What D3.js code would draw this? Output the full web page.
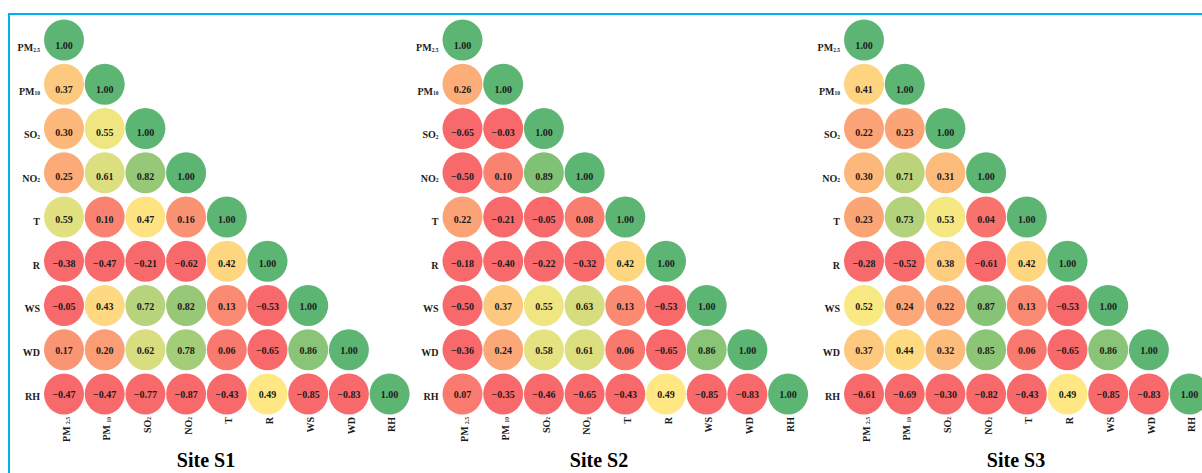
<!DOCTYPE html>
<html>
<head>
<meta charset="utf-8">
<script src="https://cdn.jsdelivr.net/npm/d3@7"></script>
<style>
  html, body { margin: 0; padding: 0; background: #ffffff; }
  svg { display: block; }
  text { font-family: "Liberation Serif", "Times New Roman", serif; font-weight: bold; }
</style>
</head>
<body>
<svg id="chart" width="1202" height="473"></svg>
<script>
// Variables in matrix order (rows top to bottom, columns left to right)
const variables = ["PM2.5", "PM10", "SO2", "NO2", "T", "R", "WS", "WD", "RH"];

// Label pieces: main text and subscript, for row labels and column labels
const rowLabelParts = {
  "PM2.5": ["PM", "2.5"], "PM10": ["PM", "10"], "SO2": ["SO", "2"], "NO2": ["NO", "2"],
  "T": ["T", ""], "R": ["R", ""], "WS": ["WS", ""], "WD": ["WD", ""], "RH": ["RH", ""]
};
const colLabelParts = {
  "PM2.5": ["PM ", "2.5"], "PM10": ["PM ", "10"], "SO2": ["SO", "2"], "NO2": ["NO", "2"],
  "T": ["T", ""], "R": ["R", ""], "WS": ["WS", ""], "WD": ["WD", ""], "RH": ["RH", ""]
};

// Lower-triangle correlation coefficients, one row per variable
const siteS1 = [
  [1.00],
  [0.37, 1.00],
  [0.30, 0.55, 1.00],
  [0.25, 0.61, 0.82, 1.00],
  [0.59, 0.10, 0.47, 0.16, 1.00],
  [-0.38, -0.47, -0.21, -0.62, 0.42, 1.00],
  [-0.05, 0.43, 0.72, 0.82, 0.13, -0.53, 1.00],
  [0.17, 0.20, 0.62, 0.78, 0.06, -0.65, 0.86, 1.00],
  [-0.47, -0.47, -0.77, -0.87, -0.43, 0.49, -0.85, -0.83, 1.00]
];
const siteS2 = [
  [1.00],
  [0.26, 1.00],
  [-0.65, -0.03, 1.00],
  [-0.50, 0.10, 0.89, 1.00],
  [0.22, -0.21, -0.05, 0.08, 1.00],
  [-0.18, -0.40, -0.22, -0.32, 0.42, 1.00],
  [-0.50, 0.37, 0.55, 0.63, 0.13, -0.53, 1.00],
  [-0.36, 0.24, 0.58, 0.61, 0.06, -0.65, 0.86, 1.00],
  [0.07, -0.35, -0.46, -0.65, -0.43, 0.49, -0.85, -0.83, 1.00]
];
const siteS3 = [
  [1.00],
  [0.41, 1.00],
  [0.22, 0.23, 1.00],
  [0.30, 0.71, 0.31, 1.00],
  [0.23, 0.73, 0.53, 0.04, 1.00],
  [-0.28, -0.52, 0.38, -0.61, 0.42, 1.00],
  [0.52, 0.24, 0.22, 0.87, 0.13, -0.53, 1.00],
  [0.37, 0.44, 0.32, 0.85, 0.06, -0.65, 0.86, 1.00],
  [-0.61, -0.69, -0.30, -0.82, -0.43, 0.49, -0.85, -0.83, 1.00]
];

const siteTitles = ["Site S1", "Site S2", "Site S3"];
const siteMatrices = [siteS1, siteS2, siteS3];

// Panel geometry
const panelLeft = [0, 398.5, 800];
const titleCenter = [206, 599, 1016];
const firstColX = 64;
const colSpan = 8 * 40.7;

const svg = d3.select("#chart");

// Frame line along the top and left edges
svg.append("rect")
  .attr("x", 9).attr("y", 14)
  .attr("width", 1400).attr("height", 700)
  .attr("fill", "none")
  .attr("stroke", "#00b0f0")
  .attr("stroke-width", 2);

// Red - yellow - green colour scale for the coefficients
const color = d3.scaleLinear()
  .domain([0, 0.5, 1])
  .range(["#f8696b", "#ffeb84", "#5cb572"])
  .clamp(true);

// Row positions: circle centres and text centres
const yCircle = d3.scalePoint().domain(variables).range([40, 394]);
const yText = d3.scalePoint().domain(variables).range([45.5, 394]);

function addLabel(sel, parts, mainSize, subSize, subShift) {
  sel.append("tspan").attr("font-size", mainSize).text(parts[0]);
  if (parts[1]) {
    sel.append("tspan")
      .attr("font-size", subSize)
      .attr("dy", subShift)
      .text(parts[1]);
  }
}

siteMatrices.forEach((matrix, p) => {
  const x0 = panelLeft[p];
  const x = d3.scalePoint().domain(variables).range([x0 + firstColX, x0 + firstColX + colSpan]);

  const cells = [];
  matrix.forEach((row, i) => {
    row.forEach((v, j) => cells.push({ row: variables[i], col: variables[j], value: v }));
  });

  const g = svg.append("g").attr("class", "panel");

  // Coefficient circles
  g.selectAll("ellipse")
    .data(cells)
    .join("ellipse")
    .attr("cx", d => x(d.col))
    .attr("cy", d => yCircle(d.row))
    .attr("rx", 20)
    .attr("ry", 20.5)
    .attr("fill", d => color(d.value));

  // Coefficient values
  g.selectAll("text.value")
    .data(cells)
    .join("text")
    .attr("class", "value")
    .attr("x", d => x(d.col))
    .attr("y", d => yText(d.row))
    .attr("dy", "0.35em")
    .attr("text-anchor", "middle")
    .attr("font-size", 10)
    .attr("fill", "#1b1b1b")
    .text(d => d3.format(".2f")(d.value));

  // Row labels
  g.selectAll("text.rowlabel")
    .data(variables)
    .join("text")
    .attr("class", "rowlabel")
    .attr("x", x0 + 40)
    .attr("y", d => yText(d))
    .attr("dy", "0.35em")
    .attr("text-anchor", "end")
    .attr("fill", "#1b1b1b")
    .each(function (d) { addLabel(d3.select(this), rowLabelParts[d], 10, 5.5, 0.5); });

  // Column labels, rotated to read upwards
  g.selectAll("text.collabel")
    .data(variables)
    .join("text")
    .attr("class", "collabel")
    .attr("transform", d => `translate(${x(d)},417) rotate(-90)`)
    .attr("dy", "0.35em")
    .attr("text-anchor", "end")
    .attr("fill", "#1b1b1b")
    .each(function (d) { addLabel(d3.select(this), colLabelParts[d], 10, 5.5, 0.5); });

  // Site title
  g.append("text")
    .attr("x", titleCenter[p])
    .attr("y", 467)
    .attr("text-anchor", "middle")
    .attr("font-size", 20)
    .attr("fill", "#000")
    .text(siteTitles[p]);
});
</script>
</body>
</html>
